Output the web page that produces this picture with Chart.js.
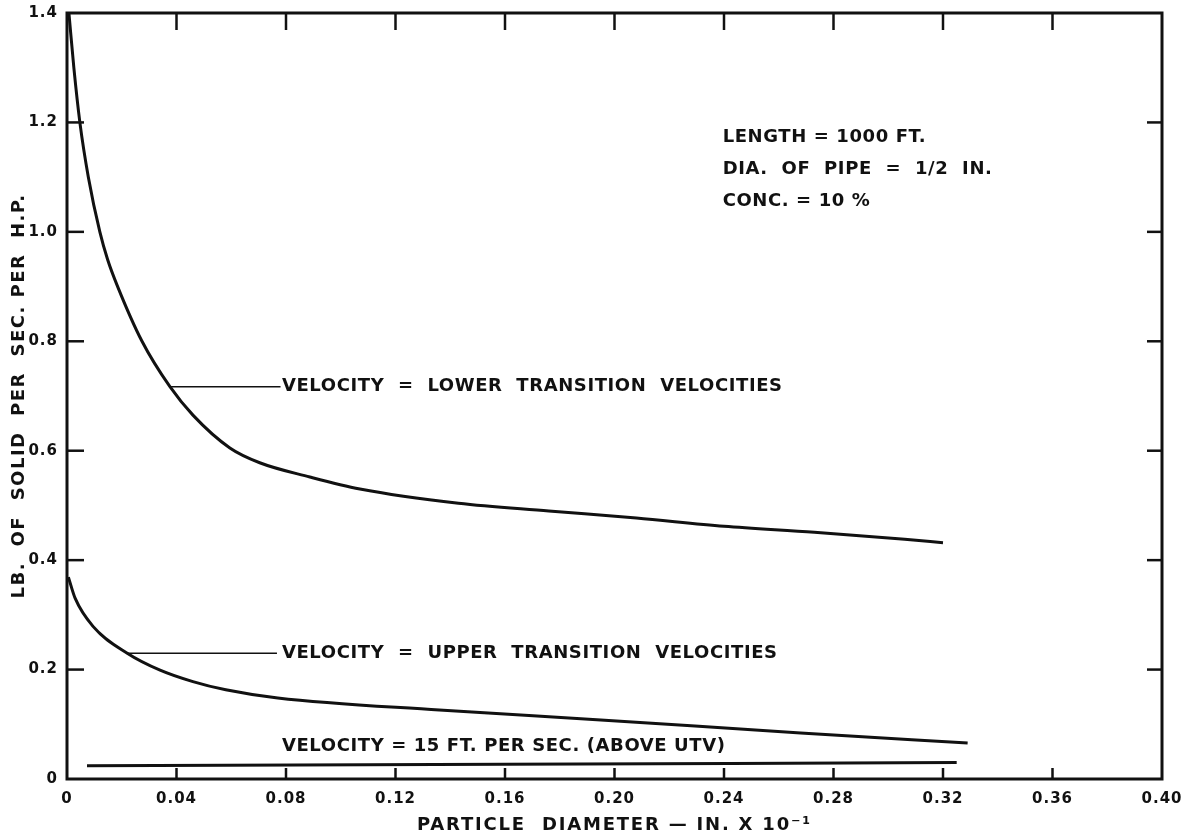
<!DOCTYPE html>
<html lang="en">
<head>
<meta charset="UTF-8">
<title>Particle diameter vs solids per h.p.</title>
<script src="https://cdn.jsdelivr.net/npm/chart.js@4.4.0/dist/chart.umd.min.js"></script>
<style>
    body{ margin:0; background:#fff; }
    #chart{ display:block; }
</style>
</head>
<body>
<canvas id="chart" width="1183" height="837"></canvas>
<script>
// values (x = particle diameter, in. x 10^-1 ; y = lb of solid per sec per h.p.)
const lowerTvX = [0.0007, 0.0025, 0.0047, 0.0078, 0.012, 0.0148, 0.0185, 0.0274, 0.0376, 0.046, 0.0595, 0.0704, 0.0887, 0.107, 0.143, 0.176, 0.208, 0.240, 0.273, 0.306, 0.320];
const lowerTvY = [1.400, 1.300, 1.200, 1.100, 1.000, 0.950, 0.900, 0.800, 0.717, 0.665, 0.605, 0.578, 0.552, 0.530, 0.504, 0.490, 0.477, 0.462, 0.451, 0.438, 0.432];

const upperTvX = [0.0005, 0.003, 0.0095, 0.022, 0.034, 0.046, 0.058, 0.077, 0.136, 0.195, 0.268, 0.329];
const upperTvY = [0.369, 0.330, 0.279, 0.230, 0.199, 0.178, 0.163, 0.148, 0.126, 0.108, 0.084, 0.066];

const v15X = [0.0073, 0.16, 0.325];
const v15Y = [0.024, 0.027, 0.030];

// leader lines from curve to label
const lowerLeaderX = [0.0376, 0.078];
const lowerLeaderY = [0.717, 0.717];
const upperLeaderX = [0.022, 0.0767];
const upperLeaderY = [0.230, 0.230];

const xTickValues = [0, 0.04, 0.08, 0.12, 0.16, 0.20, 0.24, 0.28, 0.32, 0.36, 0.40];
const yTickValues = [0, 0.2, 0.4, 0.6, 0.8, 1.0, 1.2, 1.4];

const curveLabels = [
    {text: 'VELOCITY  =  LOWER  TRANSITION  VELOCITIES', x: 0.0785, y: 0.717},
    {text: 'VELOCITY  =  UPPER  TRANSITION  VELOCITIES', x: 0.0785, y: 0.230},
    {text: 'VELOCITY = 15 FT. PER SEC. (ABOVE UTV)', x: 0.0785, y: 0.060}
];
const noteLines = [
    {text: 'LENGTH = 1000 FT.', x: 0.2395, y: 1.173},
    {text: 'DIA.  OF  PIPE  =  1/2  IN.', x: 0.2395, y: 1.115},
    {text: 'CONC. = 10 %', x: 0.2395, y: 1.055}
];

const ink = '#111';

function pts(xs, ys){ return xs.map((v, i) => ({x: v, y: ys[i]})); }

const frame = {
    id: 'frame',
    beforeDraw(chart){
        chart.ctx.letterSpacing = '1px';
    },
    afterDraw(chart){
        const ctx = chart.ctx;
        const a = chart.chartArea;
        const x = chart.scales.x, y = chart.scales.y;
        ctx.save();
        ctx.strokeStyle = ink;
        ctx.lineWidth = 3;
        ctx.strokeRect(a.left, a.top, a.right - a.left, a.bottom - a.top);

        // inward ticks on all four sides
        ctx.lineWidth = 2.5;
        function seg(x1, y1, x2, y2){ ctx.beginPath(); ctx.moveTo(x1, y1); ctx.lineTo(x2, y2); ctx.stroke(); }
        x.ticks.forEach(t => {
            if (t.value <= 0 || t.value >= 0.4) return;
            const px = x.getPixelForValue(t.value);
            seg(px, a.bottom, px, a.bottom - 11);
            seg(px, a.top, px, a.top + 17);
        });
        y.ticks.forEach(t => {
            if (t.value <= 0 || t.value >= 1.4) return;
            const py = y.getPixelForValue(t.value);
            seg(a.left, py, a.left + 17, py);
            seg(a.right, py, a.right - 15, py);
        });

        // texts
        ctx.fillStyle = ink;
        ctx.font = 'bold 18px "DejaVu Sans"';
        ctx.letterSpacing = '0.6px';
        ctx.textBaseline = 'middle';
        ctx.textAlign = 'left';
        curveLabels.concat(noteLines).forEach(l => {
            ctx.fillText(l.text, x.getPixelForValue(l.x), y.getPixelForValue(l.y));
        });

        // axis titles
        ctx.textAlign = 'center';
        ctx.letterSpacing = '1.8px';
        ctx.fillText('PARTICLE  DIAMETER \u2014 IN. X 10\u207B\u00B9', (a.left + a.right) / 2, 825);
        ctx.save();
        ctx.translate(19, (a.top + a.bottom) / 2);
        ctx.rotate(-Math.PI / 2);
        ctx.letterSpacing = '1.5px';
        ctx.fillText('LB.  OF  SOLID  PER  SEC. PER  H.P.', 0, 0);
        ctx.restore();
        ctx.restore();
    }
};

const lineStyle = {borderColor: ink, borderWidth: 3, pointRadius: 0, fill: false, cubicInterpolationMode: 'monotone'};
const leaderStyle = {borderColor: ink, borderWidth: 1.5, pointRadius: 0, fill: false, tension: 0};

new Chart(document.getElementById('chart'), {
    type: 'line',
    data: {
        datasets: [
            Object.assign({label: 'Lower transition velocities', data: pts(lowerTvX, lowerTvY)}, lineStyle),
            Object.assign({label: 'Upper transition velocities', data: pts(upperTvX, upperTvY)}, lineStyle),
            Object.assign({label: '15 ft per sec', data: pts(v15X, v15Y)}, lineStyle, {cubicInterpolationMode: 'default', tension: 0.3}),
            Object.assign({label: 'leader lower', data: pts(lowerLeaderX, lowerLeaderY)}, leaderStyle),
            Object.assign({label: 'leader upper', data: pts(upperLeaderX, upperLeaderY)}, leaderStyle)
        ]
    },
    options: {
        responsive: false,
        animation: false,
        layout: {padding: {top: 13, right: 21, left: 0, bottom: 0}},
        plugins: {legend: {display: false}, tooltip: {enabled: false}},
        scales: {
            x: {
                type: 'linear', min: 0, max: 0.4,
                grid: {display: false, drawTicks: false},
                border: {display: false},
                afterBuildTicks: s => { s.ticks = xTickValues.map(v => ({value: v})); },
                afterFit: s => { s.height = 58; s.paddingLeft = 0; s.paddingRight = 0; },
                ticks: {
                    color: ink, padding: 11, maxRotation: 0, autoSkip: false,
                    font: {family: 'DejaVu Sans', size: 15, weight: 'bold'},
                    callback: v => v === 0 ? '0' : v.toFixed(2)
                }
            },
            y: {
                type: 'linear', min: 0, max: 1.4,
                grid: {display: false, drawTicks: false},
                border: {display: false},
                afterBuildTicks: s => { s.ticks = yTickValues.map(v => ({value: v})); },
                afterFit: s => { s.width = 67; s.paddingTop = 0; s.paddingBottom = 0; },
                ticks: {
                    color: ink, padding: 9, autoSkip: false,
                    font: {family: 'DejaVu Sans', size: 15, weight: 'bold'},
                    callback: v => v === 0 ? '0' : v.toFixed(1)
                }
            }
        }
    },
    plugins: [frame]
});
</script>
</body>
</html>
